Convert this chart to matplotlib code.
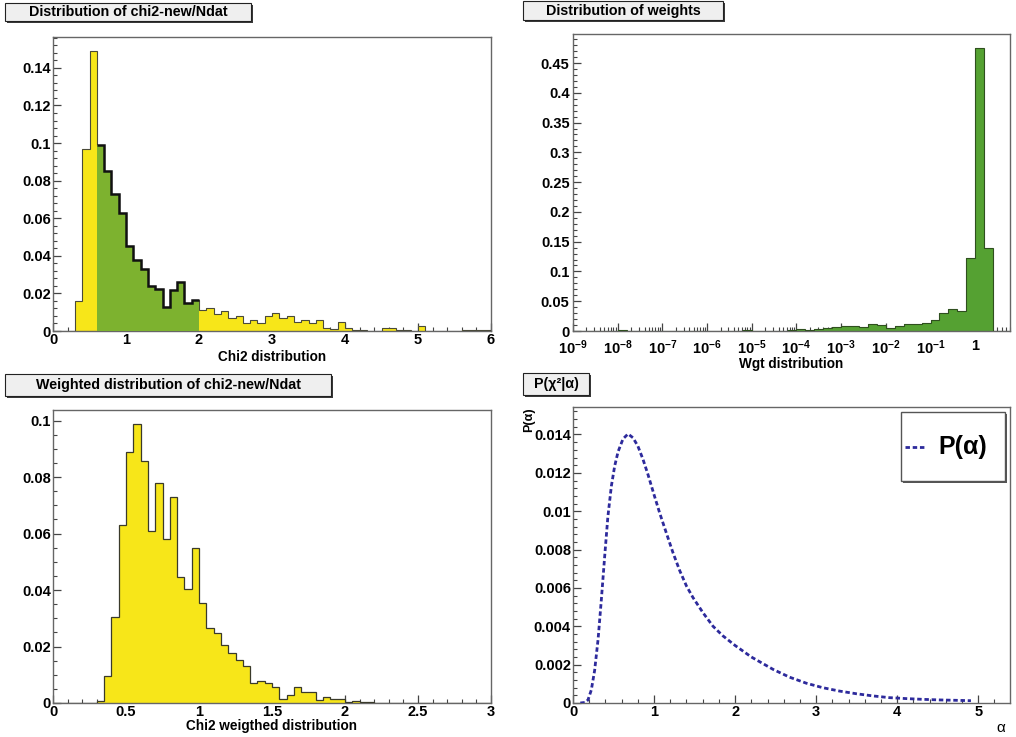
import numpy as np
import matplotlib
matplotlib.use("Agg")
import matplotlib.pyplot as plt
from matplotlib.patches import Rectangle
from matplotlib.lines import Line2D
from matplotlib.ticker import MultipleLocator, FormatStrFormatter, LogLocator, FixedLocator, FixedFormatter

plt.rcParams['font.family'] = ['Liberation Sans', 'DejaVu Sans']
plt.rcParams['font.weight'] = 'bold'
plt.rcParams['axes.labelweight'] = 'bold'
plt.rcParams['mathtext.fontset'] = 'custom'
plt.rcParams['mathtext.rm'] = 'Liberation Sans:bold'
plt.rcParams['mathtext.bf'] = 'Liberation Sans:bold'
plt.rcParams['mathtext.it'] = 'Liberation Sans:bold'

# ---------------- data ----------------
# Panel 1: chi2-new/Ndat, 60 bins of 0.1 on [0, 6]
chi2_range = (0.0, 6.0)
chi2_values = [0, 0, 0, 0.0157, 0.097, 0.149,
               0.099, 0.085, 0.073, 0.063, 0.045, 0.038, 0.033, 0.024, 0.0224, 0.013,
               0.022, 0.026, 0.015, 0.0167,
               0.011, 0.012, 0.0093, 0.0107, 0.007, 0.008, 0.004, 0.0057, 0.004, 0.008,
               0.0098, 0.007, 0.008, 0.0048, 0.0057, 0.0045, 0.0057, 0.0016, 0.001, 0.0048,
               0.0016, 0.0007, 0.0007, 0, 0, 0.0016, 0.0016, 0.0007, 0.0007, 0,
               0.0028, 0, 0, 0, 0, 0, 0.0007, 0.0007, 0.0007, 0.0007]
chi2_selected = (0.6, 2.0)   # highlighted (green) part

# Panel 2: weights, 49 bins of 0.2 in log10(w) starting at 1e-9
wgt_log_range = (-9.0, 0.8)
wgt_values = [0, 0.0005, 0.0008, 0.0008, 0.0008, 0.001, 0.0003, 0, 0, 0.0002,
              0, 0, 0, 0.0002, 0, 0.0003, 0.0008, 0.0008, 0.0008, 0.001,
              0.0005, 0, 0.0002,
              0.0004, 0.0012, 0.0030, 0.0023, 0.0040, 0.0056, 0.0068, 0.0080, 0.0090, 0.0068,
              0.0124, 0.0096, 0.0056, 0.0079, 0.0113, 0.0113, 0.0140, 0.0190, 0.0300, 0.0370,
              0.0335, 0.122, 0.475, 0.140, 0, 0]

# Panel 3: weighted chi2, 60 bins of 0.05 on [0, 3]
wchi2_range = (0.0, 3.0)
wchi2_values = [0, 0, 0, 0, 0, 0,
                0.0008, 0.0094, 0.0303, 0.063, 0.0888, 0.0988, 0.0857, 0.061, 0.0778, 0.058,
                0.0728, 0.0446, 0.0402, 0.0548, 0.0354, 0.0267, 0.0248, 0.0205, 0.0178, 0.0152,
                0.0132, 0.0071, 0.0077, 0.0070, 0.0055, 0.0013, 0.003, 0.0055, 0.0039, 0.0039,
                0.0009, 0.002, 0.0013, 0.0013, 0.0005, 0.0007, 0.0005, 0.0002, 0.0001, 0.0001,
                0.0001, 0.0001,
                0, 0, 0, 0, 0, 0, 0, 0, 0, 0, 0, 0]

# Panel 4: P(alpha)
alpha = [0.09, 0.15, 0.185, 0.226, 0.267, 0.309, 0.35, 0.39, 0.43, 0.473, 0.514, 0.556,
         0.617, 0.679, 0.74, 0.80, 0.864, 0.926, 1.0, 1.07, 1.152, 1.235, 1.317, 1.40,
         1.48, 1.605, 1.728, 1.85, 2.0, 2.2, 2.47, 2.67, 2.88, 3.08, 3.29, 3.5, 3.70,
         3.9, 4.11, 4.32, 4.52, 4.73, 4.91]
p_alpha = [0, 0.00003, 0.00016, 0.00068, 0.0017, 0.0033, 0.0054, 0.0076, 0.0097, 0.0113,
           0.01235, 0.0131, 0.01377, 0.01403, 0.01383, 0.0134, 0.0127, 0.0119, 0.01086,
           0.0099, 0.00886, 0.00782, 0.0069, 0.0061, 0.0055, 0.0047, 0.0040, 0.0035,
           0.0030, 0.0024, 0.00175, 0.00135, 0.00103, 0.0008, 0.00062, 0.00048, 0.00037,
           0.00028, 0.00023, 0.00019, 0.00016, 0.00014, 0.00012]

titles = ["Distribution of chi2-new/Ndat", "Distribution of weights",
          "Weighted distribution of chi2-new/Ndat", "P(\u03c7\u00b2|\u03b1)"]
xlabels = ["Chi2 distribution", "Wgt distribution", "Chi2 weigthed distribution", "\u03b1"]

# ---------------- style ----------------
W, H = 1016, 737
YELLOW = '#f7e619'
GREEN_SEL = '#7db22f'
GREEN = '#55a132'
LINE_BLUE = '#2d2a9c'

fig = plt.figure(figsize=(W / 100, H / 100), dpi=100)


def add_ax(l, t, r, b):
    return fig.add_axes([l / W, 1 - b / H, (r - l) / W, (b - t) / H])


def style(ax):
    for s in ax.spines.values():
        s.set_color('#666666')
        s.set_linewidth(1.0)
    ax.tick_params(which='both', direction='in', top=False, right=False,
                   color='#444444', labelsize=10.5, pad=1.5)
    ax.tick_params(which='major', length=5.5, width=0.9)
    ax.tick_params(which='minor', length=3, width=0.8)


def title_box(x0, y0, x1, y1, text):
    fig.patches.append(Rectangle(((x0 + 2) / W, 1 - (y1 + 2) / H), (x1 - x0) / W, (y1 - y0) / H,
                                 transform=fig.transFigure, facecolor='#3a3a3a',
                                 edgecolor='none', zorder=1))
    fig.patches.append(Rectangle((x0 / W, 1 - y1 / H), (x1 - x0) / W, (y1 - y0) / H,
                                 transform=fig.transFigure, facecolor='#efefef',
                                 edgecolor='#222222', linewidth=0.8, zorder=2))
    fig.text((x0 + x1) / 2 / W, 1 - (y0 + y1) / 2 / H, text, ha='center', va='center',
             fontsize=10.3, zorder=3)


# ---------- Panel 1 ----------
ax1 = add_ax(53, 37, 491, 331)
edges1 = np.linspace(chi2_range[0], chi2_range[1], len(chi2_values) + 1)
v1 = np.array(chi2_values)
ax1.stairs(v1, edges1, fill=True, color=YELLOW, zorder=2)
ax1.stairs(v1, edges1, color='#4a4a3a', linewidth=0.8, zorder=3)
sel = (edges1[:-1] >= chi2_selected[0] - 1e-9) & (edges1[1:] <= chi2_selected[1] + 1e-9)
idx = np.where(sel)[0]
e_sel = edges1[idx[0]:idx[-1] + 2]
ax1.stairs(v1[sel], e_sel, fill=True, color=GREEN_SEL, zorder=4)
ax1.stairs(v1[sel], e_sel, baseline=None, color='#111111', linewidth=1.8, zorder=5)
ax1.set_xlim(*chi2_range)
ax1.set_ylim(0, max(chi2_values) * 1.05)
ax1.xaxis.set_major_locator(MultipleLocator(1))
ax1.xaxis.set_minor_locator(MultipleLocator(0.2))
ax1.yaxis.set_major_locator(MultipleLocator(0.02))
ax1.yaxis.set_minor_locator(MultipleLocator(0.004))
ax1.xaxis.set_major_formatter(FormatStrFormatter('%g'))
ax1.yaxis.set_major_formatter(FormatStrFormatter('%g'))
style(ax1)
ax1.set_xlabel(xlabels[0], fontsize=9.8, labelpad=2)

# ---------- Panel 2 ----------
ax2 = add_ax(573, 34, 1010, 331)
edges2 = 10 ** np.linspace(wgt_log_range[0], wgt_log_range[1], len(wgt_values) + 1)
ax2.set_xscale('log')
ax2.stairs(wgt_values, edges2, fill=True, color=GREEN, zorder=2)
ax2.stairs(wgt_values, edges2, color='#2f4f1f', linewidth=0.8, zorder=3)
ax2.set_xlim(1e-9, 6.0)
ax2.set_ylim(0, max(wgt_values) * 1.05)
decades = list(range(-9, 1))
ax2.xaxis.set_major_locator(FixedLocator([10.0 ** d for d in decades]))
ax2.xaxis.set_major_formatter(FixedFormatter(
    [r'$10^{%d}$' % d if d != 0 else '1' for d in decades]))
ax2.xaxis.set_minor_locator(LogLocator(base=10, subs=np.arange(2, 10), numticks=40))
ax2.xaxis.set_minor_formatter(FixedFormatter([]))
ax2.yaxis.set_major_locator(MultipleLocator(0.05))
ax2.yaxis.set_minor_locator(MultipleLocator(0.01))
ax2.yaxis.set_major_formatter(FormatStrFormatter('%g'))
style(ax2)
ax2.tick_params(axis='x', pad=5.5)
ax2.tick_params(axis='y', pad=2.5)
ax2.set_xlabel(xlabels[1], fontsize=9.8, labelpad=0)

# ---------- Panel 3 ----------
ax3 = add_ax(53, 410, 491, 703)
edges3 = np.linspace(wchi2_range[0], wchi2_range[1], len(wchi2_values) + 1)
ax3.stairs(wchi2_values, edges3, fill=True, color=YELLOW, zorder=2)
ax3.stairs(wchi2_values, edges3, color='#3a3a2a', linewidth=0.9, zorder=3)
ax3.set_xlim(*wchi2_range)
ax3.set_ylim(0, max(wchi2_values) * 1.05)
ax3.xaxis.set_major_locator(MultipleLocator(0.5))
ax3.xaxis.set_minor_locator(MultipleLocator(0.1))
ax3.yaxis.set_major_locator(MultipleLocator(0.02))
ax3.yaxis.set_minor_locator(MultipleLocator(0.005))
ax3.xaxis.set_major_formatter(FormatStrFormatter('%g'))
ax3.yaxis.set_major_formatter(FormatStrFormatter('%g'))
style(ax3)
ax3.set_xlabel(xlabels[2], fontsize=9.8, labelpad=0)

# ---------- Panel 4 ----------
ax4 = add_ax(573, 407, 1010, 703)
ax4.plot(alpha, p_alpha, color=LINE_BLUE, linewidth=2.0, linestyle=(0, (1.6, 1.0)), zorder=3)
span = max(alpha) - min(alpha)
ax4.set_xlim(0, max(alpha) + 0.1 * span)
ax4.set_ylim(0, max(p_alpha) * 1.1)
ax4.xaxis.set_major_locator(MultipleLocator(1))
ax4.xaxis.set_minor_locator(MultipleLocator(0.2))
ax4.yaxis.set_major_locator(MultipleLocator(0.002))
ax4.yaxis.set_minor_locator(MultipleLocator(0.0004))
ax4.xaxis.set_major_formatter(FormatStrFormatter('%g'))
ax4.yaxis.set_major_formatter(FormatStrFormatter('%g'))
style(ax4)
fig.text(1005 / W, 1 - 728 / H, xlabels[3], ha='right', va='center', fontsize=11,
         fontweight='normal')
fig.text(529 / W, 1 - 407 / H, "P(\u03b1)", ha='center', va='top', rotation=90,
         fontsize=9)

# legend box
lx0, ly0, lx1, ly1 = 901, 412, 1005, 481
fig.patches.append(Rectangle(((lx0 + 1.5) / W, 1 - (ly1 + 1.5) / H), (lx1 - lx0) / W, (ly1 - ly0) / H,
                             transform=fig.transFigure, facecolor='#555555', edgecolor='none',
                             zorder=5))
fig.patches.append(Rectangle((lx0 / W, 1 - ly1 / H), (lx1 - lx0) / W, (ly1 - ly0) / H,
                             transform=fig.transFigure, facecolor='white', edgecolor='#555555',
                             linewidth=1.0, zorder=6))
fig.lines.append(Line2D([905 / W, 924 / W], [1 - 447 / H, 1 - 447 / H], transform=fig.transFigure,
                        color=LINE_BLUE, linewidth=2.0, linestyle=(0, (1.6, 1.0)), zorder=7))
fig.text(963 / W, 1 - 447 / H, "P(\u03b1)", ha='center', va='center', fontsize=18, zorder=8)

# titles
title_box(5, 3, 251, 21, titles[0])
title_box(523, 1, 723, 20, titles[1])
title_box(5, 374, 331, 396, titles[2])
title_box(523, 373, 589, 395, titles[3])

fig.savefig("out.png", dpi=100)
